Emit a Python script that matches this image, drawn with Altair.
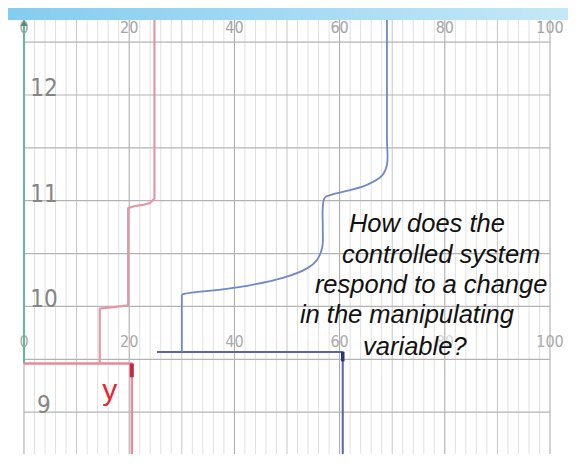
import altair as alt
import pandas as pd

# ---------------- data ----------------
# printed scale of the paper (percent) and hour marks (time runs upward)
scale_labels = [0, 20, 40, 60, 80, 100]
hour_labels = [12, 11, 10, 9]
half_hour_lines = [8.5, 9.0, 9.5, 10.0, 10.5, 11.0, 11.5, 12.0, 12.5]
grid_x = list(range(0, 101, 2))

# red trace (manipulating variable y): step input
red_base_x = [0.0, 20.5, 20.5]
red_base_t = [9.46, 9.46, 8.55]
red_step_x = [14.4, 14.4, 19.8, 19.8, 21.1, 22.6, 24.0, 24.8, 24.8]
red_step_t = [9.46, 9.98, 10.01, 10.93, 10.95, 10.96, 10.98, 11.02, 12.71]

# blue trace (controlled variable): response
blue_base_x = [25.3, 60.6, 60.6]
blue_base_t = [9.57, 9.57, 8.55]
blue_rise_x = [30.0, 30.0]
blue_rise_t = [9.57, 10.11]
blue_resp_x = [30.0, 30.6, 40.5, 49.2, 53.8, 55.7, 56.7, 56.8, 56.8,
               57.2, 58.7, 62.0, 65.2, 68.1, 69.0, 69.0, 69.0]
blue_resp_t = [10.11, 10.12, 10.18, 10.27, 10.36, 10.44, 10.56, 10.75, 10.94,
               11.03, 11.06, 11.10, 11.15, 11.24, 11.34, 11.60, 12.71]

# pen marks
red_pen_x = [20.5, 20.5]
red_pen_t = [9.46, 9.33]
blue_pen_x = [60.6, 60.6]
blue_pen_t = [9.57, 9.48]

# annotation
question_lines = ["How does the", "controlled system", "respond to a change",
                  "in the manipulating", "variable?"]
question_x = [76.6, 79.3, 77.4, 72.8, 74.3]
question_t = [10.70, 10.41, 10.13, 9.84, 9.54]

# ---------------- scales ----------------
X_DOM = [-3.04, 103.42]
T_DOM = [8.604, 12.823]
PAPER_TOP = 12.71
xs = alt.Scale(domain=X_DOM, nice=False, zero=False)
ys = alt.Scale(domain=T_DOM, nice=False, zero=False)
X = lambda f: alt.X(f, type="quantitative", scale=xs, axis=None)
Y = lambda f: alt.Y(f, type="quantitative", scale=ys, axis=None)
NARROW = "'DejaVu Sans Condensed', 'Liberation Sans Narrow', 'Roboto', sans-serif"


def path(xv, tv):
    return pd.DataFrame({"x": xv, "t": tv, "i": list(range(len(xv)))})


# top blue band (beyond paper)
band = alt.Chart(pd.DataFrame({"x0": [X_DOM[0]], "x1": [X_DOM[1]],
                               "t0": [PAPER_TOP], "t1": [T_DOM[1]]})).mark_rect(
    color={"gradient": "linear", "x1": 0, "x2": 1, "y1": 0, "y2": 0,
           "stops": [{"offset": 0, "color": "#84cdef"},
                     {"offset": 1, "color": "#c4e8f7"}]}
).encode(x=X("x0"), x2="x1", y=Y("t0"), y2="t1")

# vertical paper grid
gdf = pd.DataFrame({"x": grid_x})
gdf["t0"] = T_DOM[0]
gdf["t1"] = PAPER_TOP
gdf["kind"] = ["major" if v % 20 == 0 else ("mid" if v % 10 == 0 else "minor") for v in grid_x]
vgrid = alt.Chart(gdf).mark_rule(strokeWidth=1).encode(
    x=X("x"), y=Y("t0"), y2="t1",
    color=alt.Color("kind:N", legend=None,
                    scale=alt.Scale(domain=["minor", "mid", "major"],
                                    range=["#e0e0e0", "#c6c6c6", "#a6a6a6"])),
)

hdf = pd.DataFrame({"t": half_hour_lines, "x0": 0, "x1": 100})
hgrid = alt.Chart(hdf).mark_rule(strokeWidth=1.2, color="#b4b4b4", clip=True).encode(
    y=Y("t"), x=X("x0"), x2="x1")

# printed labels
top_lab = alt.Chart(pd.DataFrame({"x": scale_labels, "t": 12.585,
                                  "s": [str(v) for v in scale_labels]})).mark_text(
    font=NARROW, fontSize=16, color="#a4a4a4", baseline="alphabetic",
    align="center").encode(x=X("x"), y=Y("t"), text="s:N")
mid_lab = alt.Chart(pd.DataFrame({"x": scale_labels, "t": 9.62,
                                  "s": [str(v) for v in scale_labels],
                                  "o": [1, 1, 1, 1, 0.45, 1]})).mark_text(
    font=NARROW, fontSize=16, color="#aaaaaa", baseline="alphabetic",
    align="center").encode(x=X("x"), y=Y("t"), text="s:N",
                           opacity=alt.Opacity("o:Q", scale=None, legend=None))
hour_lab = alt.Chart(pd.DataFrame({"x": 3.8, "t": hour_labels,
                                   "s": [str(v) for v in hour_labels]})).mark_text(
    font=NARROW, fontSize=24, color="#858585", baseline="alphabetic",
    align="center", dy=1).encode(x=X("x"), y=Y("t"), text="s:N")

# green zero line with arrow
green = alt.Chart(path([0, 0], [9.46, PAPER_TOP])).mark_line(
    color="#62b89c", strokeWidth=2).encode(x=X("x"), y=Y("t"), order="i")
arrow = alt.Chart(pd.DataFrame({"x": [0], "t": [12.68]})).mark_point(
    shape="triangle-up", filled=True, size=45, color="#4f8f78", opacity=1).encode(
    x=X("x"), y=Y("t"))

line_kw = dict(clip=True, strokeJoin="round", strokeCap="butt")
red1 = alt.Chart(path(red_base_x, red_base_t)).mark_line(
    color="#e8899c", strokeWidth=2.4, **line_kw).encode(x=X("x"), y=Y("t"), order="i")
red2 = alt.Chart(path(red_step_x, red_step_t)).mark_line(
    color="#e596a8", strokeWidth=2.2, **line_kw).encode(x=X("x"), y=Y("t"), order="i")
blue1 = alt.Chart(path(blue_base_x, blue_base_t)).mark_line(
    color="#5a64ad", strokeWidth=2, **line_kw).encode(x=X("x"), y=Y("t"), order="i")
blue_rise = alt.Chart(path(blue_rise_x, blue_rise_t)).mark_line(
    color="#6f88c8", strokeWidth=1.8, **line_kw).encode(x=X("x"), y=Y("t"), order="i")
blue2 = alt.Chart(path(blue_resp_x, blue_resp_t)).mark_line(
    color="#6f88c8", strokeWidth=1.8, interpolate="catmull-rom", **line_kw).encode(
    x=X("x"), y=Y("t"), order="i")
red_pen = alt.Chart(path(red_pen_x, red_pen_t)).mark_line(
    color="#c8283f", strokeWidth=4, **line_kw).encode(x=X("x"), y=Y("t"), order="i")
blue_pen = alt.Chart(path(blue_pen_x, blue_pen_t)).mark_line(
    color="#2c356f", strokeWidth=3.5, **line_kw).encode(x=X("x"), y=Y("t"), order="i")

y_lab = alt.Chart(pd.DataFrame({"x": [16.3], "t": [9.115], "s": ["y"]})).mark_text(
    font="Liberation Sans", fontSize=30, color="#e8262e", baseline="alphabetic",
    align="center").encode(x=X("x"), y=Y("t"), text="s:N")

question = alt.Chart(pd.DataFrame({"x": question_x, "t": question_t,
                                   "s": question_lines})).mark_text(
    font="Liberation Sans", fontSize=25.5, fontStyle="italic", color="#111111",
    baseline="alphabetic", align="center").encode(x=X("x"), y=Y("t"), text="s:N")

chart = alt.layer(
    band, vgrid, hgrid, top_lab, mid_lab, hour_lab,
    green, arrow, red1, red2, blue1, blue_rise, blue2, red_pen, blue_pen, y_lab, question,
).properties(
    width=560, height=446, padding=0, background="white",
    autosize=alt.AutoSizeParams(type="none"),
).configure_view(stroke=None)

chart.save("out.html", embed_options={"renderer": "svg", "actions": False})
